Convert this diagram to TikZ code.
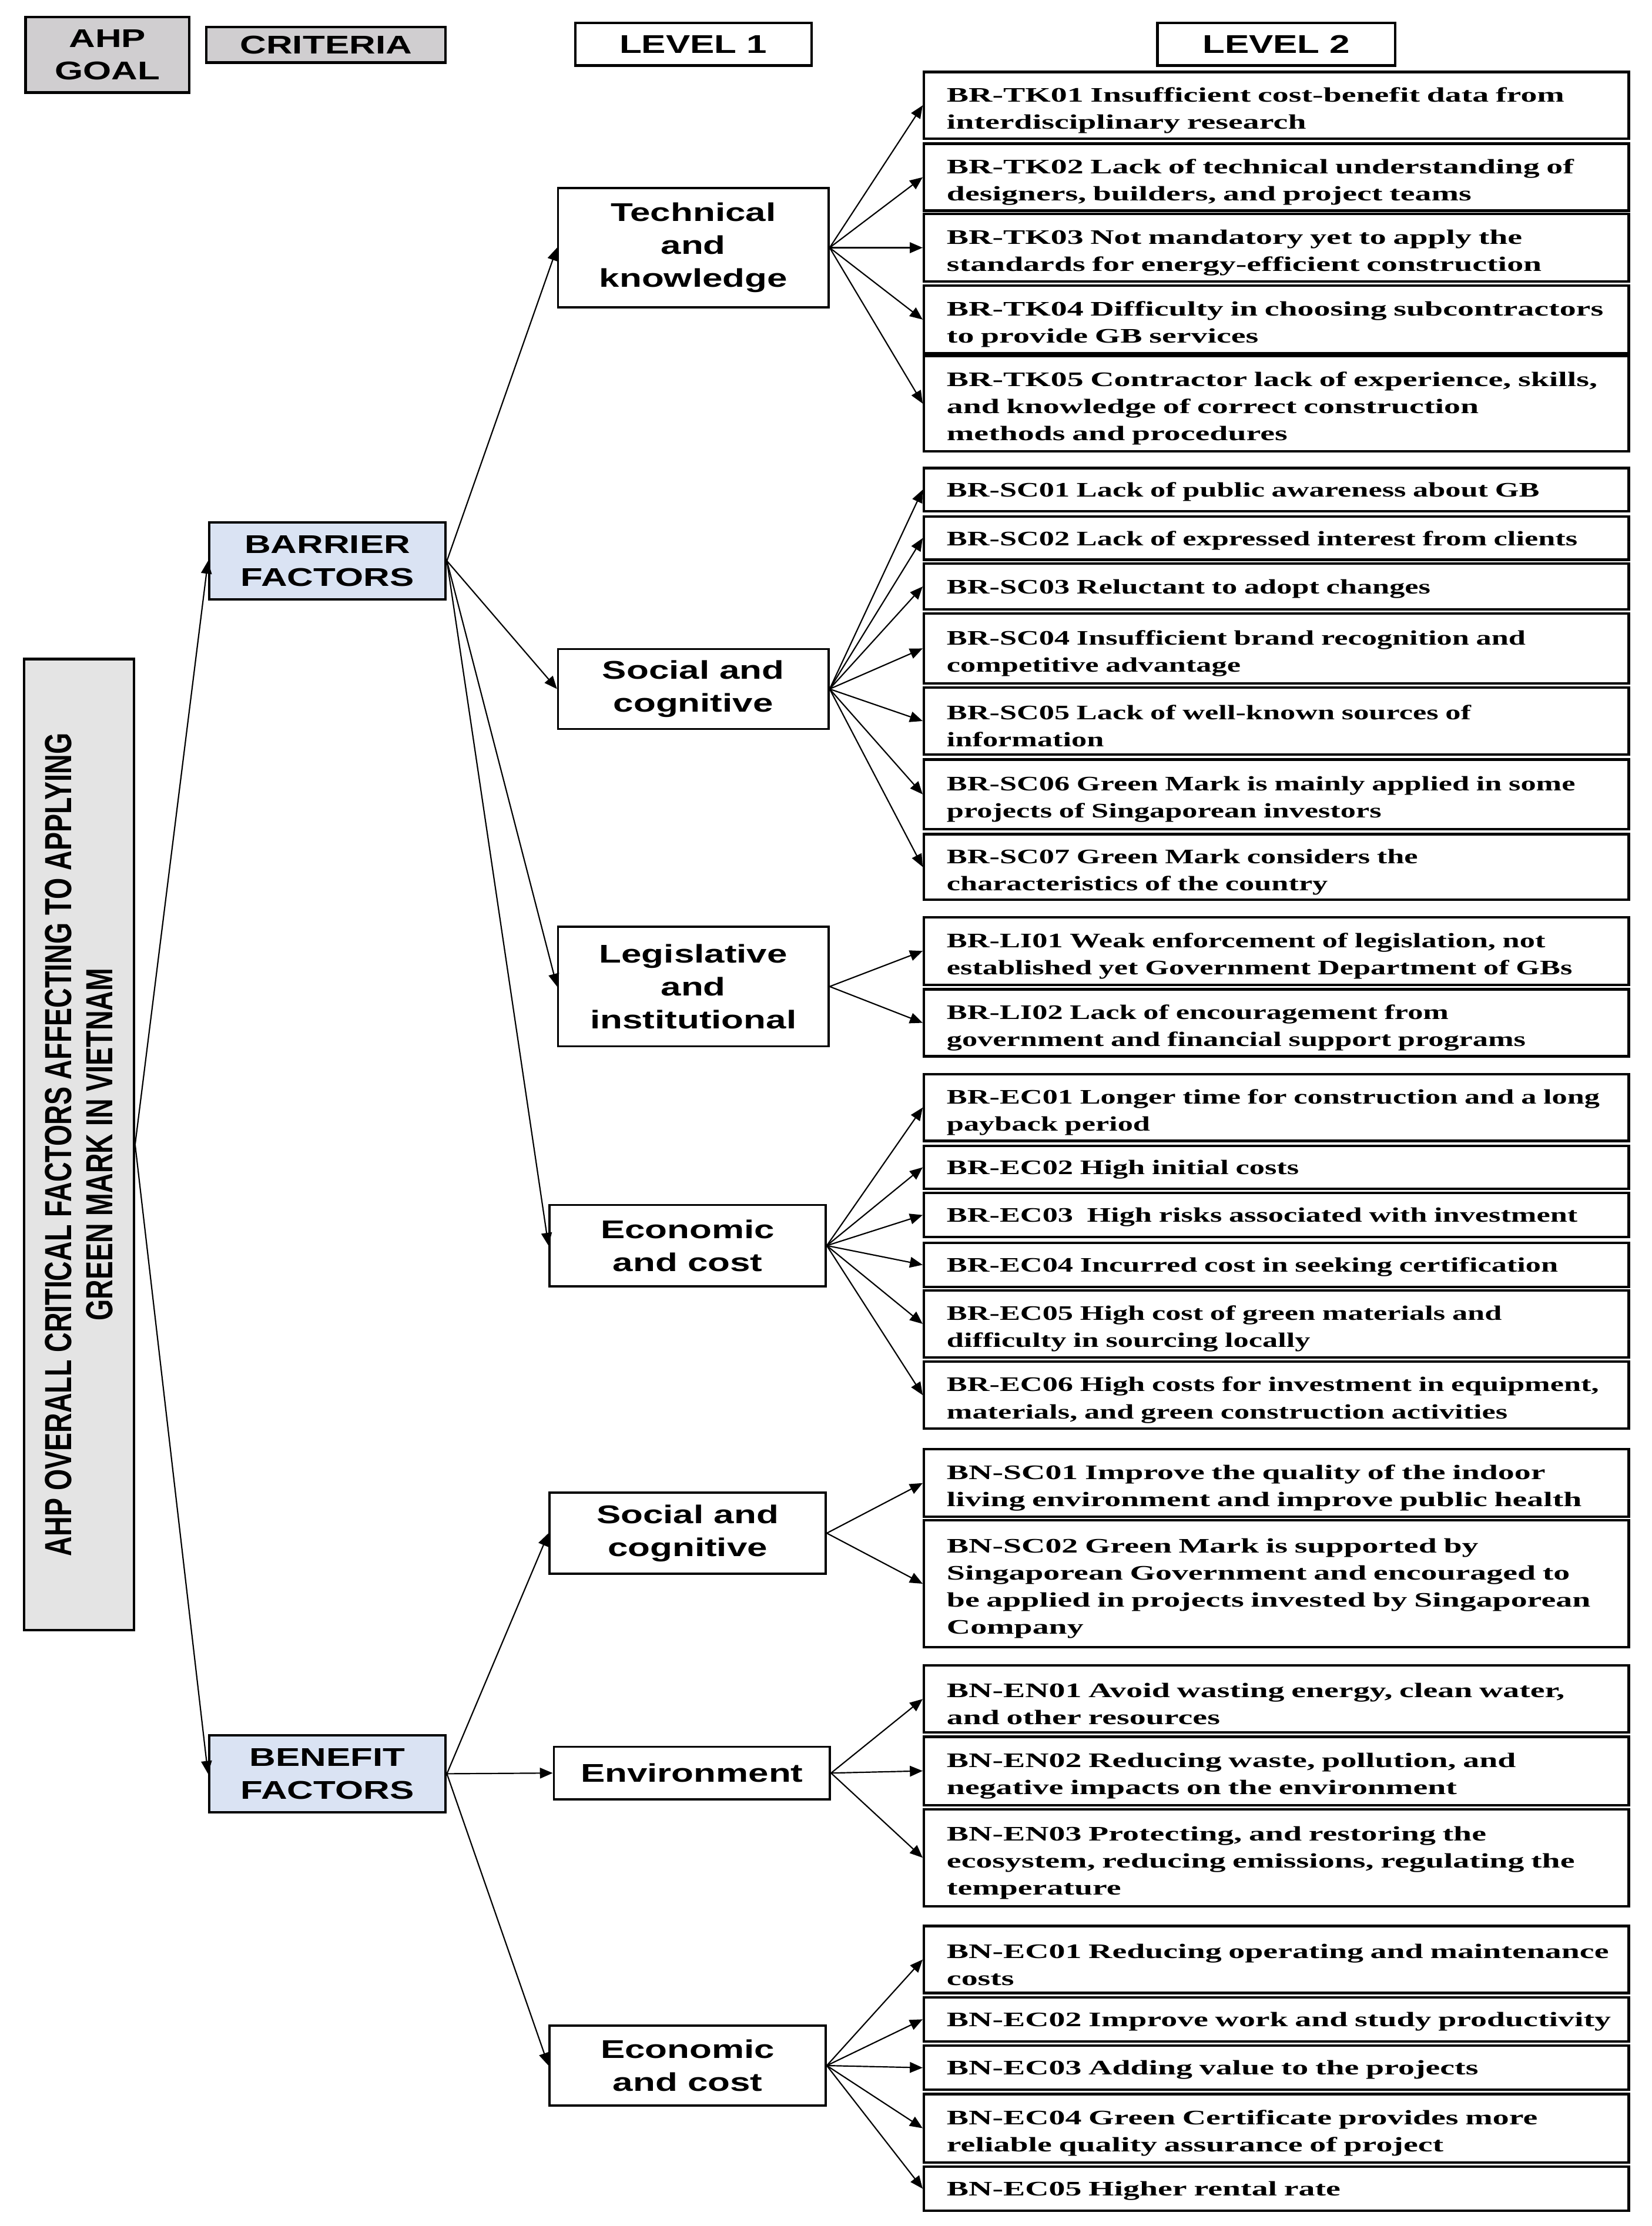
\documentclass[tikz,border=0pt]{standalone}
\usepackage{fontspec}
\usetikzlibrary{arrows.meta}

\newfontfamily\headfont[FakeStretch=1.42]{Liberation Sans}
\newfontfamily\goalfont[FakeStretch=0.725]{Liberation Sans}
\newfontfamily\itemfont[FakeStretch=1.49]{Liberation Serif}
\newfontfamily\itemwidefont[FakeStretch=1.59]{Liberation Serif}

\definecolor{hdrgray}{RGB}{208,206,208}
\definecolor{goalgray}{RGB}{228,228,228}
\definecolor{critblue}{RGB}{218,227,243}

\begin{document}
\begin{tikzpicture}[-, >={Triangle[length=9pt,width=7.5pt]}, x=1pt, y=-1pt,
    head node/.style={draw, line width=1.8pt, inner sep=0pt, align=center, font=\headfont\bfseries\fontsize{18}{23}\selectfont},
    crit node/.style={head node, fill=critblue, minimum width=166pt, minimum height=54pt},
    level node/.style={draw, line width=1.5pt, inner sep=0pt, minimum width=190pt, align=center, font=\headfont\bfseries\fontsize{18}{23}\selectfont},
    item node/.style={draw, line width=1.8pt, inner xsep=4pt, inner ysep=0pt, text width=487pt, font=\itemfont\bfseries\fontsize{14.5}{19}\selectfont, execute at begin node={\leftskip=12pt\rightskip=0pt plus 1fil\parindent=0pt}, execute at end node={\endgraf\vspace*{-7pt}}},
    wide item/.style={item node, font=\itemwidefont\bfseries\fontsize{14.5}{19}\selectfont}]
                \useasboundingbox (0,0) rectangle (1160,1563.7);

                % header row
                \node[head node, fill=hdrgray, minimum width=115pt, minimum height=53pt] (ahp) at (75.5,38.5) {AHP\\GOAL};
                \node[head node, fill=hdrgray, minimum width=168pt, minimum height=25pt] (crit) at (229,31.5) {CRITERIA};
                \node[head node, minimum width=166pt, minimum height=30pt] (lvl1) at (487,31) {LEVEL 1};
                \node[head node, minimum width=167pt, minimum height=30pt] (lvl2) at (896.5,31) {LEVEL 2};

                % goal
                \node[draw, line width=1.8pt, fill=goalgray, rotate=90, minimum width=682pt, minimum height=77pt, inner sep=0pt, align=center, font=\goalfont\bfseries\fontsize{26.5}{29}\selectfont] (goal) at (55.5,804) {AHP OVERALL CRITICAL FACTORS AFFECTING TO APPLYING\\GREEN MARK IN VIETNAM};

                % criteria
                \node[crit node] (bar) at (230,394) {BARRIER\\FACTORS};
                \node[crit node] (ben) at (230,1246) {BENEFIT\\FACTORS};

                % level 1
                \node[level node, minimum height=84pt] (tech) at (487,174) {Technical\\and\\knowledge};
                \node[level node, minimum height=56pt] (soc) at (487,484) {Social and\\cognitive};
                \node[level node, minimum height=84pt] (leg) at (487,693) {Legislative\\and\\institutional};
                \node[level node, minimum width=194pt, minimum height=57pt] (eco) at (483,875) {Economic\\and cost};
                \node[level node, minimum width=194pt, minimum height=57pt] (soc2) at (483,1077) {Social and\\cognitive};
                \node[level node, minimum width=194pt, minimum height=37pt] (env) at (486,1245.5) {Environment};
                \node[level node, minimum width=194pt, minimum height=56pt] (eco2) at (483,1451) {Economic\\and cost};

                % level 2, barriers
                \node[wide item, minimum height=47pt] (tk1) at (896.5,74) {BR-TK01 Insufficient cost-benefit data from\\interdisciplinary research};
                \node[wide item, minimum height=47pt] (tk2) at (896.5,124.5) {BR-TK02 Lack of technical understanding of\\designers, builders, and project teams};
                \node[wide item, minimum height=47.5pt] (tk3) at (896.5,174) {BR-TK03 Not mandatory yet to apply the\\standards for energy-efficient construction};
                \node[wide item, minimum height=47.5pt] (tk4) at (896.5,224.5) {BR-TK04 Difficulty in choosing subcontractors\\to provide GB services};
                \node[wide item, minimum height=67pt] (tk5) at (896.5,283.5) {BR-TK05 Contractor lack of experience, skills,\\and knowledge of correct construction\\methods and procedures};

                \node[item node, minimum height=30.5pt] (sc1) at (896.5,344) {BR-SC01 Lack of public awareness about GB};
                \node[item node, minimum height=30.5pt] (sc2) at (896.5,378) {BR-SC02 Lack of expressed interest from clients};
                \node[item node, minimum height=32pt] (sc3) at (896.5,412) {BR-SC03 Reluctant to adopt changes};
                \node[item node, minimum height=49pt] (sc4) at (896.5,455.5) {BR-SC04 Insufficient brand recognition and\\competitive advantage};
                \node[item node, minimum height=47pt] (sc5) at (896.5,506.5) {BR-SC05 Lack of well-known sources of\\information};
                \node[item node, minimum height=49pt] (sc6) at (896.5,558) {BR-SC06 Green Mark is mainly applied in some\\projects of Singaporean investors};
                \node[item node, minimum height=46pt] (sc7) at (896.5,609) {BR-SC07 Green Mark considers the\\characteristics of the country};

                \node[item node, minimum height=47.5pt] (li1) at (896.5,668) {BR-LI01 Weak enforcement of legislation, not\\established yet Government Department of GBs};
                \node[item node, minimum height=47pt] (li2) at (896.5,718.5) {BR-LI02 Lack of encouragement from\\government and financial support programs};

                \node[item node, minimum height=47pt] (ec1) at (896.5,778) {BR-EC01 Longer time for construction and a long\\payback period};
                \node[item node, minimum height=30pt] (ec2) at (896.5,820) {BR-EC02 High initial costs};
                \node[item node, minimum height=31pt] (ec3) at (896.5,853.5) {BR-EC03~ High risks associated with investment};
                \node[item node, minimum height=31pt] (ec4) at (896.5,888.5) {BR-EC04 Incurred cost in seeking certification};
                \node[item node, minimum height=47pt] (ec5) at (896.5,930) {BR-EC05 High cost of green materials and\\difficulty in sourcing locally};
                \node[item node, minimum height=47pt] (ec6) at (896.5,980) {BR-EC06 High costs for investment in equipment,\\materials, and green construction activities};

                % level 2, benefits
                \node[wide item, minimum height=47.5pt] (bs1) at (896.5,1041.8) {BN-SC01 Improve the quality of the indoor\\living environment and improve public health};
                \node[wide item, minimum height=89pt] (bs2) at (896.5,1112.5) {BN-SC02 Green Mark is supported by\\Singaporean Government and encouraged to\\be applied in projects invested by Singaporean\\Company};

                \node[wide item, minimum height=47pt] (en1) at (896.5,1193.5) {BN-EN01 Avoid wasting energy, clean water,\\and other resources};
                \node[wide item, minimum height=48pt] (en2) at (896.5,1244) {BN-EN02 Reducing waste, pollution, and\\negative impacts on the environment};
                \node[wide item, minimum height=68pt] (en3) at (896.5,1305) {BN-EN03 Protecting, and restoring the\\ecosystem, reducing emissions, regulating the\\temperature};

                \node[wide item, minimum height=47pt] (bc1) at (896.5,1376.5) {BN-EC01 Reducing operating and maintenance\\costs};
                \node[wide item, minimum height=31pt] (bc2) at (896.5,1418.5) {BN-EC02 Improve work and study productivity};
                \node[wide item, minimum height=31pt] (bc3) at (896.5,1452.5) {BN-EC03 Adding value to the projects};
                \node[wide item, minimum height=48pt] (bc4) at (896.5,1495) {BN-EC04 Green Certificate provides more\\reliable quality assurance of project};
                \node[wide item, minimum height=31pt] (bc5) at (896.5,1537.5) {BN-EC05 Higher rental rate};

                \path[->, line width=0.9pt]
                    (goal.south) edge (bar.west)
                    (goal.south) edge (ben.west)

                    (bar.east) edge (tech.west)
                    (bar.east) edge (soc.west)
                    (bar.east) edge (leg.west)
                    (bar.east) edge (eco.west)

                    (ben.east) edge (soc2.west)
                    (ben.east) edge (env.west)
                    (ben.east) edge (eco2.west)

                    (tech.east) edge (tk1.west)
                    (tech.east) edge (tk2.west)
                    (tech.east) edge (tk3.west)
                    (tech.east) edge (tk4.west)
                    (tech.east) edge (tk5.west)

                    (soc.east) edge (sc1.west)
                    (soc.east) edge (sc2.west)
                    (soc.east) edge (sc3.west)
                    (soc.east) edge (sc4.west)
                    (soc.east) edge (sc5.west)
                    (soc.east) edge (sc6.west)
                    (soc.east) edge (sc7.west)

                    (leg.east) edge (li1.west)
                    (leg.east) edge (li2.west)

                    (eco.east) edge (ec1.west)
                    (eco.east) edge (ec2.west)
                    (eco.east) edge (ec3.west)
                    (eco.east) edge (ec4.west)
                    (eco.east) edge (ec5.west)
                    (eco.east) edge (ec6.west)

                    (soc2.east) edge (bs1.west)
                    (soc2.east) edge (bs2.west)

                    (env.east) edge (en1.west)
                    (env.east) edge (en2.west)
                    (env.east) edge (en3.west)

                    (eco2.east) edge (bc1.west)
                    (eco2.east) edge (bc2.west)
                    (eco2.east) edge (bc3.west)
                    (eco2.east) edge (bc4.west)
                    (eco2.east) edge (bc5.west)
                ;
            \end{tikzpicture}
\end{document}
